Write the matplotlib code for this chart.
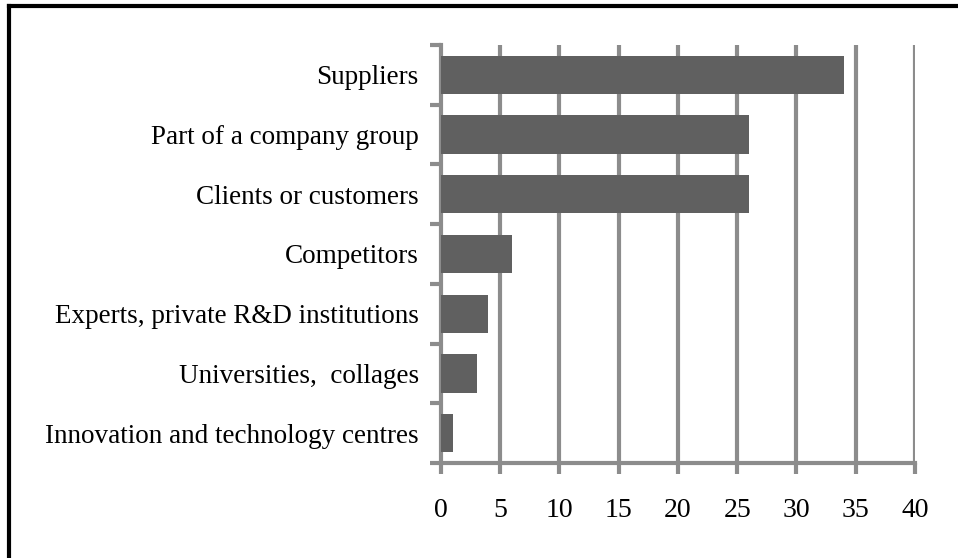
import matplotlib.pyplot as plt
from matplotlib.lines import Line2D
import numpy as np

plt.rcParams['font.family'] = ['Liberation Serif', 'DejaVu Serif']

categories = ['Suppliers', 'Part of a company group', 'Clients or customers',
              'Competitors', 'Experts, private R&D institutions',
              'Universities,  collages', 'Innovation and technology centres']
values = [34, 26, 26, 6, 4, 3, 1]
xticks = [0, 5, 10, 15, 20, 25, 30, 35, 40]

grid_col = '#8c8c8c'
bar_col = '#606060'

fig = plt.figure(figsize=(9.58, 5.58), dpi=100)
ax = fig.add_axes([0.4603, 0.1703, 0.9551 - 0.4603, 0.9194 - 0.1703])

pos = np.arange(len(categories))
ax.barh(pos, values, height=0.64, color=bar_col, zorder=3)
ax.set_ylim(len(categories) - 0.5, -0.5)
ax.set_xlim(0, 40)

# vertical gridlines
ax.set_xticks(xticks)
ax.set_xticklabels([str(t) for t in xticks], fontsize=20)
for t in xticks[1:]:
    ax.axvline(t, color=grid_col, lw=3, zorder=1)

# category labels on minor ticks, tick marks on boundaries
ax.set_yticks(np.arange(-0.5, len(categories), 1.0))
ax.set_yticklabels([])
ax.set_yticks(pos, minor=True)
ax.set_yticklabels(categories, minor=True, fontsize=19.5)
ax.tick_params(axis='y', which='minor', length=0, pad=16)
ax.tick_params(axis='y', which='major', length=8, width=3, color=grid_col)
ax.tick_params(axis='x', length=8, width=3, color=grid_col, pad=17)

for s in ['top', 'right']:
    ax.spines[s].set_visible(False)
for s in ['left', 'bottom']:
    ax.spines[s].set_color(grid_col)
    ax.spines[s].set_linewidth(3)

# outer frame (top and left edges visible)
fig.add_artist(Line2D([9 / 958, 1], [1 - 6 / 558, 1 - 6 / 558], color='black', lw=3,
                      transform=fig.transFigure))
fig.add_artist(Line2D([9 / 958, 9 / 958], [0, 1 - 6 / 558], color='black', lw=3,
                      transform=fig.transFigure))

fig.savefig('out.png', dpi=100)
